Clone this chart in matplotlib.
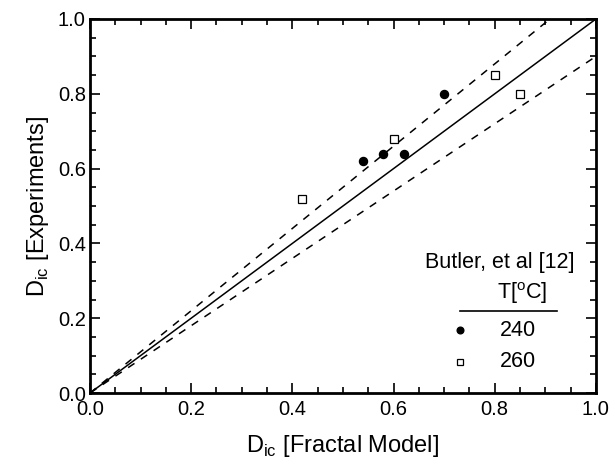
import matplotlib
matplotlib.use('Agg')
import matplotlib.pyplot as plt
import numpy as np
from matplotlib.ticker import MultipleLocator

plt.rcParams['font.family'] = ['Liberation Sans', 'DejaVu Sans']
plt.rcParams['mathtext.fontset'] = 'custom'
plt.rcParams['mathtext.rm'] = 'Liberation Sans'

# Butler et al [12] data
x240 = [0.54, 0.58, 0.62, 0.70]
y240 = [0.62, 0.64, 0.64, 0.80]
x260 = [0.42, 0.60, 0.80, 0.85]
y260 = [0.52, 0.68, 0.85, 0.80]

lineX = [0.0, 1.0]
bandFactors = [1.1, 0.9]

fig = plt.figure(figsize=(6.15, 4.69), dpi=100)
ax = fig.add_axes([0.1463, 0.162, 0.8227, 0.7975])

ax.plot(lineX, lineX, color='black', lw=1.1)
for f in bandFactors:
    ax.plot(lineX, [v*f for v in lineX], color='black', lw=1.1, ls=(0, (5, 5)))

ax.plot(x240, y240, 'o', color='black', ms=5.8)
ax.plot(x260, y260, 's', mfc='white', mec='black', ms=5.8, mew=0.9)

# legend drawn by hand
ax.text(0.81, 0.35, 'Butler, et al [12]', ha='center', va='center', fontsize=15.5)
ax.text(0.854, 0.267, 'T[$^{\\mathregular{o}}$C]', ha='center', va='center', fontsize=15.5)
ax.plot([0.731, 0.923], [0.219, 0.219], color='black', lw=1.2)
ax.plot([0.731], [0.168], 'o', color='black', ms=4.8)
ax.text(0.846, 0.168, '240', ha='center', va='center', fontsize=15.5)
ax.plot([0.731], [0.083], 's', mfc='white', mec='black', ms=4.5, mew=0.9)
ax.text(0.846, 0.083, '260', ha='center', va='center', fontsize=15.5)

ax.set_xlim(0, 1)
ax.set_ylim(0, 1)
ax.xaxis.set_major_locator(MultipleLocator(0.2))
ax.yaxis.set_major_locator(MultipleLocator(0.2))
ax.xaxis.set_minor_locator(MultipleLocator(0.05))
ax.yaxis.set_minor_locator(MultipleLocator(0.05))
ax.xaxis.set_major_formatter(plt.FormatStrFormatter('%.1f'))
ax.yaxis.set_major_formatter(plt.FormatStrFormatter('%.1f'))
ax.tick_params(which='both', direction='in', top=True, right=True, labelsize=14.5, width=1.2)
ax.tick_params(which='major', length=7)
ax.tick_params(axis='x', which='major', pad=5)
ax.tick_params(axis='y', which='major', pad=3)
ax.tick_params(which='minor', length=4)
for s in ax.spines.values():
    s.set_linewidth(2)

ax.set_xlabel('D$_{\\mathregular{ic}}$ [Fractal Model]', fontsize=17, labelpad=10)
ax.set_ylabel('D$_{\\mathregular{ic}}$ [Experiments]', fontsize=17, labelpad=5)

fig.savefig('out.png', dpi=100)
